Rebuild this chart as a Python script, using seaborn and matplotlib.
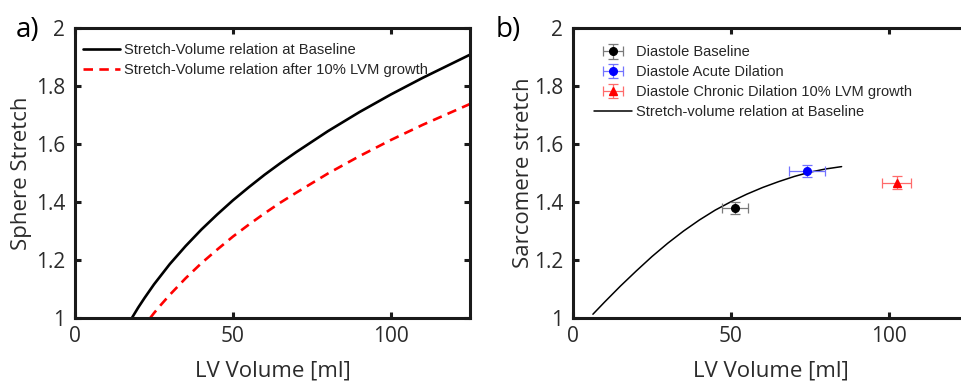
import numpy as np
import pandas as pd
import matplotlib
matplotlib.use("Agg")
import matplotlib.pyplot as plt
import seaborn as sns
from matplotlib.ticker import FuncFormatter, FixedLocator
from matplotlib.container import ErrorbarContainer
from matplotlib.legend_handler import HandlerErrorbar

# ---------------- data ----------------
# panel a) sphere stretch vs LV volume
a_vol_base = [18, 19, 20, 22, 25, 30, 35, 40, 45, 50, 55, 60, 65, 70, 80, 90,
              100, 110, 125]
a_str_base = [1.000, 1.018, 1.036, 1.069, 1.116, 1.186, 1.248, 1.305, 1.357,
              1.406, 1.451, 1.494, 1.534, 1.572, 1.644, 1.710, 1.771, 1.828, 1.908]
a_vol_grow = [23.8, 24.5, 25, 27, 30, 35, 40, 45, 50, 55, 60, 65, 70, 80, 90,
              100, 110, 125]
a_str_grow = [1.000, 1.010, 1.017, 1.043, 1.080, 1.137, 1.189, 1.236, 1.281,
              1.322, 1.361, 1.398, 1.432, 1.498, 1.558, 1.614, 1.666, 1.738]
a_labels = ["Stretch-Volume relation at Baseline",
            "Stretch-Volume relation after 10% LVM growth"]

# panel b) sarcomere stretch vs LV volume
b_vol_curve = [6.3, 10, 15, 20, 25, 30, 35, 40, 45, 50, 55, 60, 65, 70, 75, 80, 85]
b_str_curve = [1.013, 1.055, 1.110, 1.162, 1.212, 1.258, 1.300, 1.338, 1.372,
               1.401, 1.427, 1.450, 1.470, 1.488, 1.503, 1.514, 1.522]
b_curve_label = "Stretch-volume relation at Baseline"

b_point_labels = ["Diastole Baseline", "Diastole Acute Dilation",
                  "Diastole Chronic Dilation 10% LVM growth"]
b_vol = [51.3, 73.9, 102.4]
b_vol_err = [4.1, 5.7, 4.7]
b_str = [1.378, 1.506, 1.467]
b_str_err = [0.021, 0.021, 0.021]

x_ticks = [0, 50, 100]
y_ticks = [1, 1.2, 1.4, 1.6, 1.8, 2]

# ---------------- style ----------------
sns.set_theme(style="ticks")
plt.rcParams["font.family"] = ["Open Sans", "DejaVu Sans"]

W, H = 962, 383
fig = plt.figure(figsize=(W / 100, H / 100), dpi=100)

axw = 395 / W
axh = 290 / H
axb = 65 / H
ax1 = fig.add_axes([75 / W, axb, axw, axh])
ax2 = fig.add_axes([573 / W, axb, axw, axh])

fmt = FuncFormatter(lambda v, p: "%g" % v)
for ax in (ax1, ax2):
    ax.set_xlim(0, 125)
    ax.set_ylim(1, 2)
    ax.xaxis.set_major_locator(FixedLocator(x_ticks))
    ax.yaxis.set_major_locator(FixedLocator(y_ticks))
    ax.yaxis.set_major_formatter(fmt)
    ax.xaxis.set_major_formatter(fmt)
    for s in ax.spines.values():
        s.set_visible(True)
        s.set_linewidth(2.2)
        s.set_color("#1a1a1a")
    ax.tick_params(direction="in", top=True, right=True, length=4,
                   width=2.2, color="#1a1a1a", labelsize=15, labelcolor="#2b2b2b")
    ax.tick_params(axis="y", pad=7)
    ax.tick_params(axis="x", pad=6)
    ax.set_facecolor("white")

# ---- panel a
df_ab = pd.DataFrame({"vol": a_vol_base, "str": a_str_base})
df_ag = pd.DataFrame({"vol": a_vol_grow, "str": a_str_grow})
sns.lineplot(data=df_ab, x="vol", y="str", ax=ax1, color="black",
             linewidth=1.9, sort=False, estimator=None, label=a_labels[0])
sns.lineplot(data=df_ag, x="vol", y="str", ax=ax1, color="#ff0000",
             linewidth=1.9, sort=False, estimator=None, label=a_labels[1])
ax1.lines[-1].set_dashes((3.6, 2.4))
ax1.set_xlabel("LV Volume [ml]", fontsize=16, color="#2b2b2b", labelpad=9.5)
ax1.set_ylabel("Sphere Stretch", fontsize=16, color="#2b2b2b", labelpad=3)
leg1 = ax1.legend(loc="upper left", bbox_to_anchor=(0.02, 0.948), frameon=False,
                  borderpad=0, borderaxespad=0, handlelength=2.5,
                  handletextpad=0.3, labelspacing=0.42,
                  prop={"family": "Liberation Sans", "size": 10.6})

# ---- panel b
df_bc = pd.DataFrame({"vol": b_vol_curve, "str": b_str_curve})
sns.lineplot(data=df_bc, x="vol", y="str", ax=ax2, color="black",
             linewidth=1.1, sort=False, estimator=None, label=b_curve_label)
curve_handle = ax2.lines[-1]

mcolors = ["black", "#0000ff", "#ff0000"]
ecolors = ["#7a7a7a", "#7373ff", "#ff6b6b"]
markers = ["o", "o", "^"]
handles = []
for i in range(3):
    c = ax2.errorbar(b_vol[i], b_str[i], xerr=b_vol_err[i], yerr=b_str_err[i],
                     fmt=markers[i], color=mcolors[i], ecolor=ecolors[i],
                     markersize=5.5, elinewidth=0.9, capsize=3.5, capthick=0.9,
                     label=b_point_labels[i], zorder=3)
    handles.append(c)
handles.append(curve_handle)
ax2.set_xlabel("LV Volume [ml]", fontsize=16, color="#2b2b2b", labelpad=9.5)
ax2.set_ylabel("Sarcomere stretch", fontsize=16, color="#2b2b2b", labelpad=0)
leg2 = ax2.legend(handles=handles, labels=b_point_labels + [b_curve_label],
                  loc="upper left", bbox_to_anchor=(0.053, 0.94), frameon=False,
                  borderpad=0, borderaxespad=0, handlelength=2.6,
                  handletextpad=0.3, labelspacing=0.4,
                  handler_map={ErrorbarContainer: HandlerErrorbar(xerr_size=0.7, yerr_size=0.5)},
                  prop={"family": "Liberation Sans", "size": 10.5})

# panel labels
fig.text(16 / W, 1 - 37 / H, "a)", fontsize=20, color="black", va="baseline")
fig.text(496 / W, 1 - 37 / H, "b)", fontsize=20, color="black", va="baseline")

fig.savefig("out.png", dpi=100, facecolor="white")
